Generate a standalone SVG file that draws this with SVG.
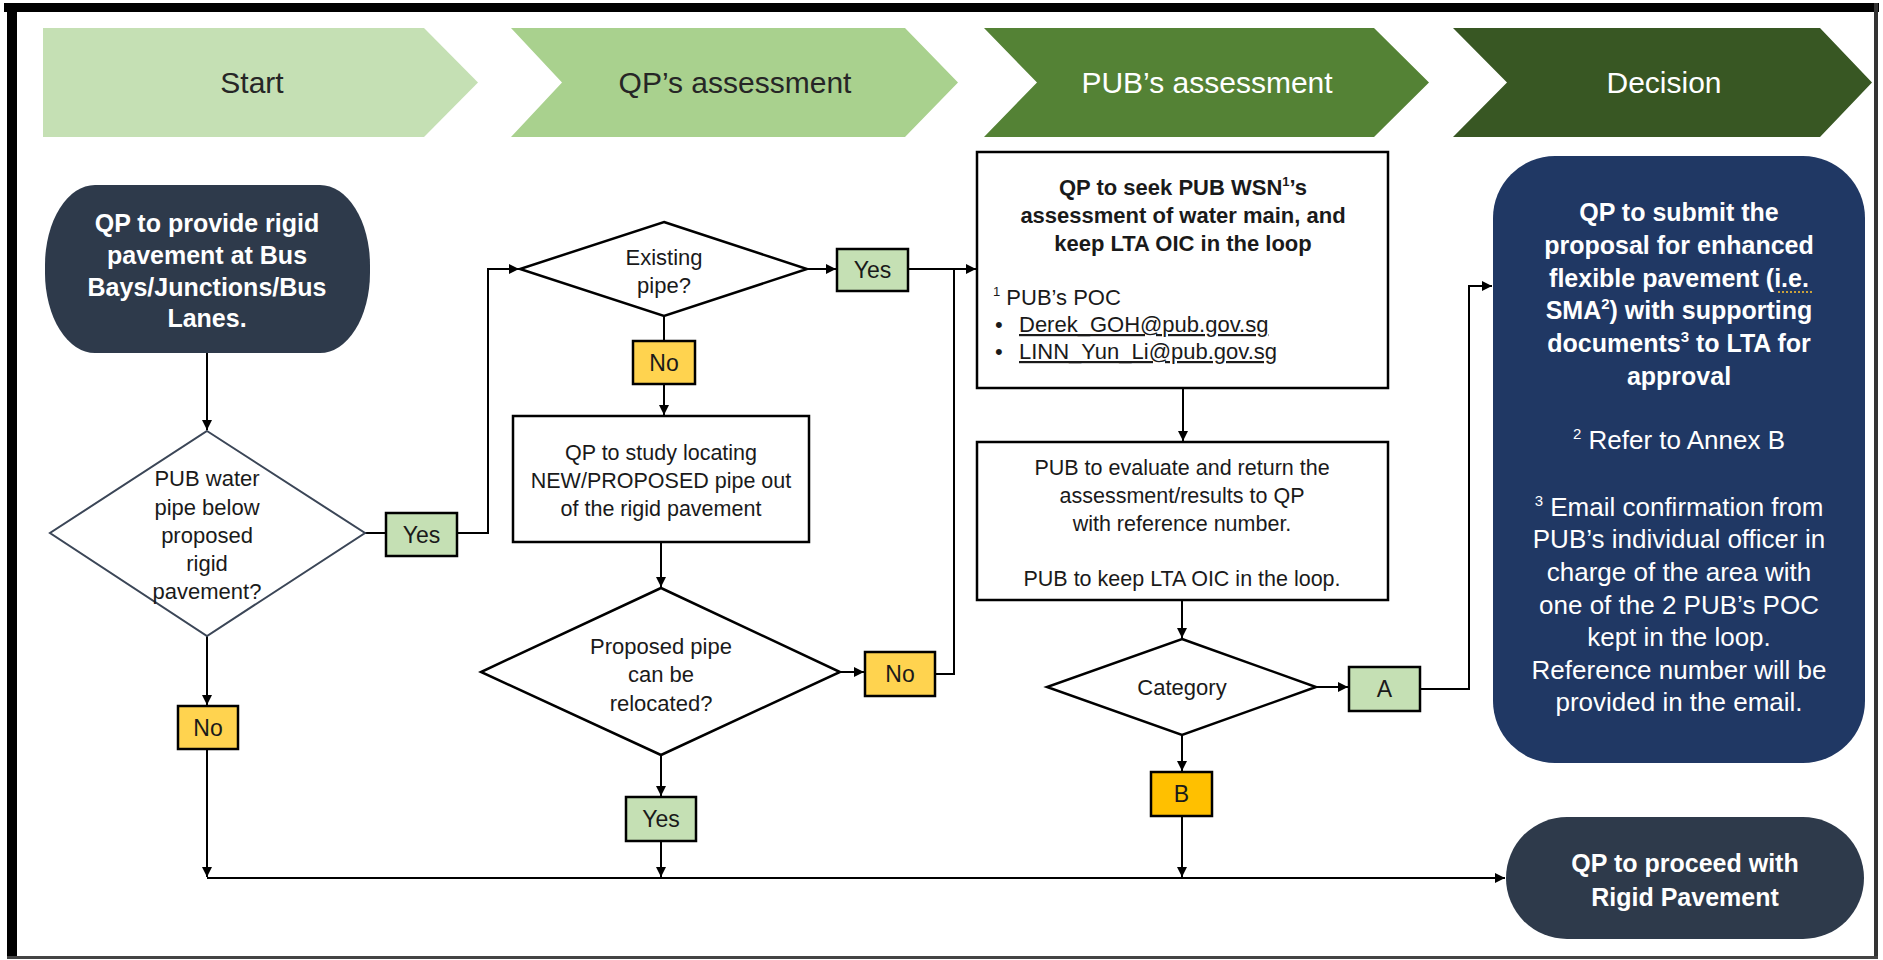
<svg xmlns="http://www.w3.org/2000/svg" width="1883" height="960" viewBox="0 0 1883 960">
<defs>
<marker id="arr" viewBox="0 0 10 10" refX="10" refY="5" markerWidth="11" markerHeight="10" markerUnits="userSpaceOnUse" orient="auto">
<path d="M0,0 L10,5 L0,10 Z" fill="#000"/>
</marker>
<style>
.hdr{font-family:"Liberation Sans",Arial,sans-serif;font-size:30px;text-anchor:middle}
.t{font-family:"Liberation Sans",Arial,sans-serif;fill:#1a1a1a;text-anchor:middle}
.b{font-weight:bold}
.w{fill:#fff}
.ln{fill:none;stroke:#000;stroke-width:2}
.la{fill:none;stroke:#000;stroke-width:2;marker-end:url(#arr)}
.box{fill:#fff;stroke:#000;stroke-width:2.5}
.dia{fill:#fff;stroke:#000;stroke-width:2.5}
.yes{fill:#c5e0b4;stroke:#000;stroke-width:2.5}
.no{fill:#ffd34f;stroke:#000;stroke-width:2.5}
.term{fill:#2e3a4b}
.lbl{font-size:23px}
</style>
</defs>
<rect width="1883" height="960" fill="#fff"/>
<!-- frame -->
<g id="frame">
<rect x="4" y="3" width="1875" height="9" fill="#000"/>
<rect x="7" y="3" width="10" height="956" fill="#000"/>
<rect x="1874" y="3" width="4" height="956" fill="#333"/>
<rect x="7" y="956" width="1871" height="3" fill="#444"/>
</g>
<!-- header -->
<g id="hdr-start">
<path d="M43,28 L424,28 L478,82.5 L424,137 L43,137 Z" fill="#c5e0b4"/>
<text class="hdr" x="252" y="93" fill="#262626">Start</text>
</g>
<g id="hdr-qp">
<path d="M511,28 L905,28 L958,82.5 L905,137 L511,137 L562,82.5 Z" fill="#a9d18e"/>
<text class="hdr" x="735" y="93" fill="#262626">QP’s assessment</text>
</g>
<g id="hdr-pub">
<path d="M984,28 L1374,28 L1429,82.5 L1374,137 L984,137 L1037,82.5 Z" fill="#548235"/>
<text class="hdr" x="1207" y="93" fill="#fff">PUB’s assessment</text>
</g>
<g id="hdr-decision">
<path d="M1453,28 L1820,28 L1872,82.5 L1820,137 L1453,137 L1507,82.5 Z" fill="#385723"/>
<text class="hdr" x="1664" y="93" fill="#fff">Decision</text>
</g>
<!-- connectors -->
<g id="connectors">
<path class="la" d="M207,353 L207,430"/>
<path class="ln" d="M365,533 L386,533"/>
<path class="la" d="M457,533 L488,533 L488,269 L519,269"/>
<path class="la" d="M807,269 L836,269"/>
<path class="la" d="M908,269 L976,269"/>
<path class="ln" d="M664,316 L664,341"/>
<path class="la" d="M664,384 L664,415"/>
<path class="la" d="M661,542 L661,587"/>
<path class="la" d="M840,672 L864,672"/>
<path class="ln" d="M935,674 L954,674 L954,269"/>
<path class="la" d="M661,755 L661,796"/>
<path class="la" d="M661,841 L661,877"/>
<path class="la" d="M207,636 L207,705"/>
<path class="la" d="M207,749 L207,877"/>
<path class="la" d="M207,878 L1505,878"/>
<path class="la" d="M1183,388 L1183,441"/>
<path class="la" d="M1182,600 L1182,638"/>
<path class="la" d="M1316,687 L1348,687"/>
<path class="la" d="M1420,689 L1469,689 L1469,286 L1492,286"/>
<path class="la" d="M1182,735 L1182,771"/>
<path class="la" d="M1182,816 L1182,877"/>
</g>
<!-- nodes -->
<g id="n-start">
<rect class="term" x="45" y="185" width="325" height="168" rx="50" ry="80"/>
<text class="t b w" font-size="25"><tspan x="207" y="232">QP to provide rigid</tspan><tspan x="207" y="264">pavement at Bus</tspan><tspan x="207" y="296">Bays/Junctions/Bus</tspan><tspan x="207" y="327">Lanes.</tspan></text>
</g>
<g id="n-d1">
<polygon points="207,431 365,533 207,636 50,533" fill="#fff" stroke="#3b4657" stroke-width="2"/>
<text class="t" font-size="22"><tspan x="207" y="486">PUB water</tspan><tspan x="207" y="515">pipe below</tspan><tspan x="207" y="543">proposed</tspan><tspan x="207" y="571">rigid</tspan><tspan x="207" y="599">pavement?</tspan></text>
</g>
<g id="l-yes1">
<rect class="yes" x="386" y="513" width="71" height="43"/>
<text class="t lbl" x="421.5" y="543">Yes</text>
</g>
<g id="n-existing">
<polygon class="dia" points="664,222 807,269 664,316 520,269"/>
<text class="t" font-size="22"><tspan x="664" y="265">Existing</tspan><tspan x="664" y="293">pipe?</tspan></text>
</g>
<g id="l-yes2">
<rect class="yes" x="837" y="249" width="71" height="42"/>
<text class="t lbl" x="872.5" y="278">Yes</text>
</g>
<g id="l-no2">
<rect class="no" x="633" y="341" width="62" height="43"/>
<text class="t lbl" x="664" y="371">No</text>
</g>
<g id="n-study">
<rect class="box" x="513" y="416" width="296" height="126"/>
<text class="t" font-size="21.5"><tspan x="661" y="460">QP to study locating</tspan><tspan x="661" y="488">NEW/PROPOSED pipe out</tspan><tspan x="661" y="516">of the rigid pavement</tspan></text>
</g>
<g id="n-relocate">
<polygon class="dia" points="661,588 840,672 661,755 481,672"/>
<text class="t" font-size="22"><tspan x="661" y="654">Proposed pipe</tspan><tspan x="661" y="682">can be</tspan><tspan x="661" y="711">relocated?</tspan></text>
</g>
<g id="l-no3">
<rect class="no" x="865" y="652" width="70" height="44"/>
<text class="t lbl" x="900" y="682">No</text>
</g>
<g id="l-yes3">
<rect class="yes" x="626" y="797" width="70" height="44"/>
<text class="t lbl" x="661" y="827">Yes</text>
</g>
<g id="l-no1">
<rect class="no" x="178" y="706" width="60" height="43"/>
<text class="t lbl" x="208" y="736">No</text>
</g>
<g id="n-seek">
<rect class="box" x="977" y="152" width="411" height="236"/>
<text class="t b" font-size="22"><tspan x="1183" y="195">QP to seek PUB WSN<tspan font-size="13" dy="-9">1</tspan><tspan dy="9">’s</tspan></tspan><tspan x="1183" y="223">assessment of water main, and</tspan><tspan x="1183" y="251">keep LTA OIC in the loop</tspan></text>
<text font-family="Liberation Sans, Arial, sans-serif" font-size="22" fill="#1a1a1a" x="993" y="305"><tspan font-size="13" dy="-9">1</tspan><tspan dy="9"> PUB’s POC</tspan></text>
<text font-family="Liberation Sans, Arial, sans-serif" font-size="22" fill="#1a1a1a" x="995" y="332">•</text>
<text font-family="Liberation Sans, Arial, sans-serif" font-size="22" fill="#1a1a1a" x="1019" y="332" text-decoration="underline">Derek_GOH@pub.gov.sg</text>
<text font-family="Liberation Sans, Arial, sans-serif" font-size="22" fill="#1a1a1a" x="995" y="359">•</text>
<text font-family="Liberation Sans, Arial, sans-serif" font-size="22" fill="#1a1a1a" x="1019" y="359" text-decoration="underline">LINN_Yun_Li@pub.gov.sg</text>
</g>
<g id="n-evaluate">
<rect class="box" x="977" y="442" width="411" height="158"/>
<text class="t" font-size="21.5"><tspan x="1182" y="475">PUB to evaluate and return the</tspan><tspan x="1182" y="503">assessment/results to QP</tspan><tspan x="1182" y="531">with reference number.</tspan><tspan x="1182" y="586">PUB to keep LTA OIC in the loop.</tspan></text>
</g>
<g id="n-category">
<polygon class="dia" points="1182,639 1316,687 1182,735 1047,687"/>
<text class="t" font-size="22" x="1182" y="695">Category</text>
</g>
<g id="l-a">
<rect class="yes" x="1349" y="667" width="71" height="44"/>
<text class="t lbl" x="1384.5" y="697">A</text>
</g>
<g id="l-b">
<rect x="1151" y="772" width="61" height="44" fill="#ffc000" stroke="#000" stroke-width="2.5"/>
<text class="t lbl" x="1181.5" y="802">B</text>
</g>
<g id="n-submit">
<rect x="1493" y="156" width="372" height="607" rx="62" ry="62" fill="#203864"/>
<text class="t b w" font-size="25"><tspan x="1679" y="221">QP to submit the</tspan><tspan x="1679" y="254">proposal for enhanced</tspan><tspan x="1679" y="287">flexible pavement (i.e.</tspan><tspan x="1679" y="319">SMA<tspan font-size="15" dy="-10">2</tspan><tspan dy="10">) with supporting</tspan></tspan><tspan x="1679" y="352">documents<tspan font-size="15" dy="-10">3</tspan><tspan dy="10"> to LTA for</tspan></tspan><tspan x="1679" y="385">approval</tspan></text>
<line x1="1778" y1="292" x2="1812" y2="292" stroke="#c9a13c" stroke-width="2" stroke-dasharray="2,2"/>
<text class="t w" font-size="26"><tspan x="1679" y="449"><tspan font-size="15" dy="-10">2</tspan><tspan dy="10"> Refer to Annex B</tspan></tspan><tspan x="1679" y="516"><tspan font-size="15" dy="-10">3</tspan><tspan dy="10"> Email confirmation from</tspan></tspan><tspan x="1679" y="548">PUB’s individual officer in</tspan><tspan x="1679" y="581">charge of the area with</tspan><tspan x="1679" y="614">one of the 2 PUB’s POC</tspan><tspan x="1679" y="646">kept in the loop.</tspan><tspan x="1679" y="679">Reference number will be</tspan><tspan x="1679" y="711">provided in the email.</tspan></text>
</g>
<g id="n-proceed">
<rect class="term" x="1506" y="817" width="358" height="122" rx="61" ry="61"/>
<text class="t b w" font-size="25"><tspan x="1685" y="872">QP to proceed with</tspan><tspan x="1685" y="906">Rigid Pavement</tspan></text>
</g>
</svg>
